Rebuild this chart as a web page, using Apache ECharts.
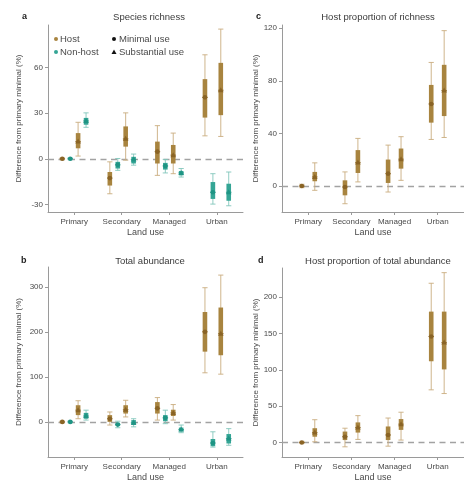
<!DOCTYPE html>
<html>
<head>
<meta charset="utf-8">
<script src="https://cdn.jsdelivr.net/npm/echarts@6/dist/echarts.min.js"></script>
<style>
html,body{margin:0;padding:0;background:#fff;}
#chart{width:464px;height:483px;}
</style>
</head>
<body>
<div id="chart"></div>
<script>
const categories = ['Primary', 'Secondary', 'Managed', 'Urban'];

// each entry: [whiskerLow, boxLow, estimate, boxHigh, whiskerHigh]
const richnessHostMinimal = [[-0.6,-0.3,0,0.3,0.6],[-23,-17.6,-12.7,-8.7,-2],[-10.9,-3.1,4.7,11.3,21.8],[15.1,27.1,40.4,52.4,68.4]];
const richnessNonHostMinimal = [[-0.6,-0.3,0,0.3,0.6],[-7.6,-6.4,-4,-2,0.2],[-9.3,-7.1,-4.7,-2.7,-0.4],[-29.8,-26.4,-22,-15.3,-9.8]];
const richnessHostSubstantial = [[1.8,6.9,11.3,16.9,24],[-0.9,8,13.1,21.3,30.2],[-9.8,-3.1,2.4,9.1,16.9],[14.7,28.7,45.1,63.1,85.3]];
const richnessNonHostSubstantial = [[20.7,22.4,24.9,26.9,30.2],[-4.2,-3.1,-0.4,1.3,3.1],[-12,-10.9,-9.3,-8,-6.4],[-30.9,-27.6,-22,-16.4,-8.7]];

const abundanceHostMinimal = [[-2,-1,0,1,2],[-7,0,7,15,22],[4,18.5,30,44,54],[109,156,200,244,298]];
const abundanceNonHostMinimal = [[-2,-1,0,1,2],[-13,-9,-6,-2,1.5],[-4,1.5,9,15,26],[-56,-54,-47,-38,-22]];
const abundanceHostSubstantial = [[7,15,26,37,47],[11,18.5,27,37,48],[4,13,20,27,38.5],[106,148,196,254,326]];
const abundanceNonHostSubstantial = [[4,7,13,20,26],[-11,-7,-2,4,7],[-24,-21,-17,-12.6,-7],[-52,-48,-37,-27,-15]];

const propRichnessMinimal = [[-1.3,-0.6,0,0.6,1.3],[-13.5,-7.1,-0.8,4.3,10.7],[-4.6,2.3,9.4,20.1,31.1],[35.4,48.2,62.4,76.9,94]];
const propRichnessSubstantial = [[-3.3,3.6,6.9,10.7,17.6],[3.1,9.9,17.8,27.3,36.2],[4.3,13.2,20.4,28.5,37.5],[36.9,53.2,72.6,92.2,118.2]];

const propAbundanceMinimal = [[-1.5,-0.7,0,0.7,1.5],[-6,3.3,7.9,15,19.6],[-5.1,3.3,10.3,22,33.6],[72.4,111.7,145.8,180,219]];
const propAbundanceSubstantial = [[0.9,7.9,13.6,19.6,31.3],[4.2,13.6,20.6,27.6,36.9],[3.3,17.3,25.2,32.2,41.6],[67.3,100.5,137.4,180,233.6]];

const richnessTicks = [-30, 0, 30, 60];
const abundanceTicks = [0, 100, 200, 300];
const propRichnessTicks = [0, 40, 80, 120];
const propAbundanceTicks = [0, 50, 100, 150, 200];

const panelTitles = ['Species richness', 'Host proportion of richness', 'Total abundance', 'Host proportion of total abundance'];
const panelLetters = ['a', 'c', 'b', 'd'];
const yAxisTitle = 'Difference from primary minimal (%)';
const xAxisTitle = 'Land use';
const legendGroups = ['Host', 'Non-host'];
const legendUses = ['Minimal use', 'Substantial use'];

// ---------- styling ----------
const FONT = 'Liberation Sans, Arial, sans-serif';
const COL = {
  host: {point: '#8a6426', box: '#a8843f', whisker: '#c9ad7f'},
  non: {point: '#1f9484', box: '#34a595', whisker: '#82c6bb'}
};
const AXIS_COL = '#9a9a9a';
const TEXT_COL = '#4a4a4a';

function buildData(arr, offset) {
  return arr.map((d, i) => [i + 1 + offset].concat(d));
}

function renderer(colors, shape) {
  return function (params, api) {
    const x = api.value(0);
    const wLo = api.coord([x, api.value(1)]);
    const bLo = api.coord([x, api.value(2)]);
    const mid = api.coord([x, api.value(3)]);
    const bHi = api.coord([x, api.value(4)]);
    const wHi = api.coord([x, api.value(5)]);
    const cx = mid[0];
    const cap = 2.6, bw = 2.3;
    const ws = {stroke: colors.whisker, lineWidth: 0.9};
    const children = [
      {type: 'line', shape: {x1: cx, y1: wHi[1], x2: cx, y2: wLo[1]}, style: ws},
      {type: 'line', shape: {x1: cx - cap, y1: wHi[1], x2: cx + cap, y2: wHi[1]}, style: ws},
      {type: 'line', shape: {x1: cx - cap, y1: wLo[1], x2: cx + cap, y2: wLo[1]}, style: ws},
      {type: 'rect', shape: {x: cx - bw, y: bHi[1], width: bw * 2, height: Math.max(0.5, bLo[1] - bHi[1])}, style: {fill: colors.box}}
    ];
    if (shape === 'circle') {
      children.push({type: 'circle', shape: {cx: cx, cy: mid[1], r: 2.3}, style: {fill: colors.point}});
    } else {
      children.push({type: 'polygon', shape: {points: [[cx, mid[1] - 3], [cx - 2.8, mid[1] + 2], [cx + 2.8, mid[1] + 2]]}, style: {fill: colors.point}});
    }
    children.push({type: 'line', shape: {x1: cx - bw - 0.5, y1: mid[1], x2: cx + bw + 0.5, y2: mid[1]}, style: {stroke: colors.point, lineWidth: 0.8}});
    return {type: 'group', children: children};
  };
}

function series(idx, arr, offset, colors, shape, withZero) {
  const s = {
    type: 'custom',
    xAxisIndex: idx, yAxisIndex: idx,
    renderItem: renderer(colors, shape),
    data: buildData(arr, offset),
    clip: false,
    z: 3
  };
  if (withZero) {
    s.markLine = {
      silent: true, symbol: 'none', z: 1,
      label: {show: false},
      lineStyle: {type: [6, 4.5], color: '#a2a2a2', width: 1.4},
      data: [{yAxis: 0}]
    };
  }
  return s;
}

const grids = [
  {left: 48, top: 25, width: 195, height: 187},
  {left: 282, top: 25, width: 186, height: 187},
  {left: 48, top: 267, width: 195, height: 190},
  {left: 282, top: 268, width: 186, height: 189}
];
const xRanges = [[0.45, 4.55], [0.39, 4.61], [0.45, 4.55], [0.39, 4.61]];
const yRanges = [[-35, 88], [-19.8, 122.5], [-78, 344], [-20, 240]];
const yTickSets = [richnessTicks, propRichnessTicks, abundanceTicks, propAbundanceTicks];
const yNameGaps = [25, 15, 25, 22];

const xAxes = grids.map((g, i) => ({
  type: 'value', gridIndex: i, min: xRanges[i][0], max: xRanges[i][1],
  splitLine: {show: false},
  axisLine: {show: true, onZero: false, lineStyle: {color: AXIS_COL, width: 1}},
  axisTick: {show: true, length: 3, customValues: [1, 2, 3, 4], lineStyle: {color: AXIS_COL}},
  axisLabel: {customValues: [1, 2, 3, 4], formatter: v => categories[Math.round(v) - 1] || '', fontSize: 8, color: TEXT_COL, fontFamily: FONT, margin: 6},
  name: xAxisTitle, nameLocation: 'middle', nameGap: 16,
  nameTextStyle: {fontSize: 9, color: TEXT_COL, fontFamily: FONT}
}));
const yAxes = grids.map((g, i) => ({
  type: 'value', gridIndex: i, min: yRanges[i][0], max: yRanges[i][1],
  splitLine: {show: false},
  axisLine: {show: true, onZero: false, lineStyle: {color: AXIS_COL, width: 1}},
  axisTick: {show: true, length: 3, customValues: yTickSets[i], lineStyle: {color: AXIS_COL}},
  axisLabel: {customValues: yTickSets[i], fontSize: 8, color: TEXT_COL, fontFamily: FONT, margin: 5},
  name: yAxisTitle, nameLocation: 'middle', nameGap: yNameGaps[i],
  nameTextStyle: {fontSize: 8, color: TEXT_COL, fontFamily: FONT}
}));

const titleCenters = [[144, 7], [373, 7], [145, 251], [373, 251]];
const letterPos = [[17, 7], [251, 7], [16, 251], [253, 251]];
const titles = [];
panelTitles.forEach((t, i) => {
  titles.push({text: t, left: titleCenters[i][0], top: titleCenters[i][1], textAlign: 'center',
    textStyle: {fontSize: 9.5, fontWeight: 'normal', color: '#3a3a3a', fontFamily: FONT}});
  titles.push({text: panelLetters[i], left: letterPos[i][0], top: letterPos[i][1],
    textStyle: {fontSize: 9, fontWeight: 'bold', color: '#222', fontFamily: FONT}});
});

const D1 = 0.25, D2 = 0.083, DP = 0.15;
const seriesList = [
  series(0, richnessHostMinimal, -D1, COL.host, 'circle', true),
  series(0, richnessNonHostMinimal, -D2, COL.non, 'circle'),
  series(0, richnessHostSubstantial, D2, COL.host, 'triangle'),
  series(0, richnessNonHostSubstantial, D1, COL.non, 'triangle'),
  series(1, propRichnessMinimal, -DP, COL.host, 'circle', true),
  series(1, propRichnessSubstantial, DP, COL.host, 'triangle'),
  series(2, abundanceHostMinimal, -D1, COL.host, 'circle', true),
  series(2, abundanceNonHostMinimal, -D2, COL.non, 'circle'),
  series(2, abundanceHostSubstantial, D2, COL.host, 'triangle'),
  series(2, abundanceNonHostSubstantial, D1, COL.non, 'triangle'),
  series(3, propAbundanceMinimal, -DP, COL.host, 'circle', true),
  series(3, propAbundanceSubstantial, DP, COL.host, 'triangle')
];

const legendText = {fontSize: 9.5, fill: TEXT_COL, fontFamily: FONT, verticalAlign: 'middle'};
const graphic = [
  {type: 'circle', shape: {cx: 56, cy: 39, r: 2}, style: {fill: COL.host.box}},
  {type: 'text', x: 60, y: 39, style: Object.assign({text: legendGroups[0]}, legendText)},
  {type: 'circle', shape: {cx: 56, cy: 52, r: 2}, style: {fill: COL.non.box}},
  {type: 'text', x: 60, y: 52, style: Object.assign({text: legendGroups[1]}, legendText)},
  {type: 'circle', shape: {cx: 114, cy: 39, r: 2}, style: {fill: '#111'}},
  {type: 'text', x: 119, y: 39, style: Object.assign({text: legendUses[0]}, legendText)},
  {type: 'polygon', shape: {points: [[114, 49.5], [111.5, 54], [116.5, 54]]}, style: {fill: '#111'}},
  {type: 'text', x: 119, y: 52, style: Object.assign({text: legendUses[1]}, legendText)}
];

const chart = echarts.init(document.getElementById('chart'), null, {renderer: 'canvas'});
chart.setOption({
  backgroundColor: '#ffffff',
  animation: false,
  textStyle: {fontFamily: FONT},
  title: titles,
  grid: grids,
  xAxis: xAxes,
  yAxis: yAxes,
  series: seriesList,
  graphic: graphic
});
</script>
</body>
</html>
